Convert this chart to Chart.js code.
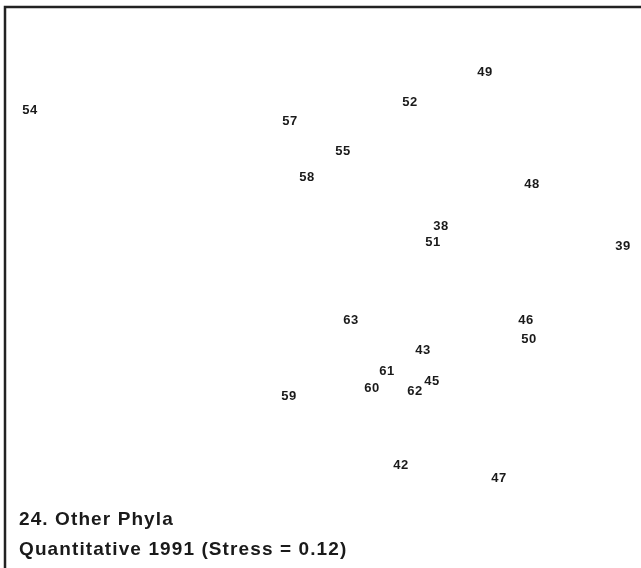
<!DOCTYPE html>
<html>
<head>
<meta charset="utf-8">
<script src="https://cdn.jsdelivr.net/npm/chart.js@4"></script>
<style>
	html, body { margin: 0; padding: 0; background: #fff; }
	#wrap { width: 641px; height: 568px; }
</style>
</head>
<body>
<div id="wrap"><canvas id="mds-chart" width="641" height="568"></canvas></div>
<script>
// Sample ids and their positions on the ordination plane
var sampleLabels = ['54', '57', '52', '49', '55', '58', '48', '38', '51', '39', '63', '46', '50', '43', '61', '45', '60', '62', '59', '47', '42'];
var dimX = [30, 290, 410, 485, 343, 307, 532, 441, 433, 623, 351, 526, 529, 423, 387, 432, 372, 415, 289, 499, 401];
var dimY = [458, 447, 466, 496, 417, 391, 384, 342, 326, 322, 248, 248, 229, 218, 197, 187, 180, 177, 172, 90, 103];
var captionLines = ['24. Other Phyla', 'Quantitative 1991 (Stress = 0.12)'];

(function() {
	var points = sampleLabels.map(function(l, i) {
		return { x: dimX[i], y: dimY[i] };
	});

	// Frame, point labels and caption
	var mdsPlugin = {
		id: 'mdsLabels',
		beforeDraw: function(chart) {
			var c = chart.ctx;
			c.save();
			c.fillStyle = '#fff';
			c.fillRect(0, 0, chart.width, chart.height);
			c.strokeStyle = '#222';
			c.lineWidth = 2.5;
			c.beginPath();
			c.moveTo(5, chart.height);
			c.lineTo(5, 7);
			c.lineTo(chart.width, 7);
			c.stroke();
			c.restore();
		},
		afterDatasetsDraw: function(chart) {
			var c = chart.ctx;
			var meta = chart.getDatasetMeta(0);
			c.save();
			c.fillStyle = '#1a1a1a';
			c.font = 'bold 13px "Liberation Sans", Arial, sans-serif';
			c.letterSpacing = '0.5px';
			c.textAlign = 'center';
			c.textBaseline = 'middle';
			meta.data.forEach(function(el, i) {
				c.fillText(sampleLabels[i], el.x, el.y);
			});
			c.font = 'bold 19px "Liberation Sans", Arial, sans-serif';
			c.letterSpacing = '1.1px';
			c.textAlign = 'left';
			c.fillText(captionLines[0], 19, 520);
			c.fillText(captionLines[1], 19, 550);
			c.restore();
		}
	};

	var chart = new Chart(document.getElementById('mds-chart'), {
		type: 'scatter',
		data: {
			datasets: [{
				label: 'Samples',
				data: points,
				pointRadius: 0,
				pointHoverRadius: 0
			}]
		},
		options: {
			responsive: false,
			animation: false,
			layout: { padding: 0 },
			plugins: {
				legend: { display: false },
				tooltip: { enabled: false }
			},
			scales: {
				x: { type: 'linear', min: 0, max: 641, display: false },
				y: { type: 'linear', min: 0, max: 568, display: false }
			}
		},
		plugins: [mdsPlugin]
	});
})();
</script>
</body>
</html>
